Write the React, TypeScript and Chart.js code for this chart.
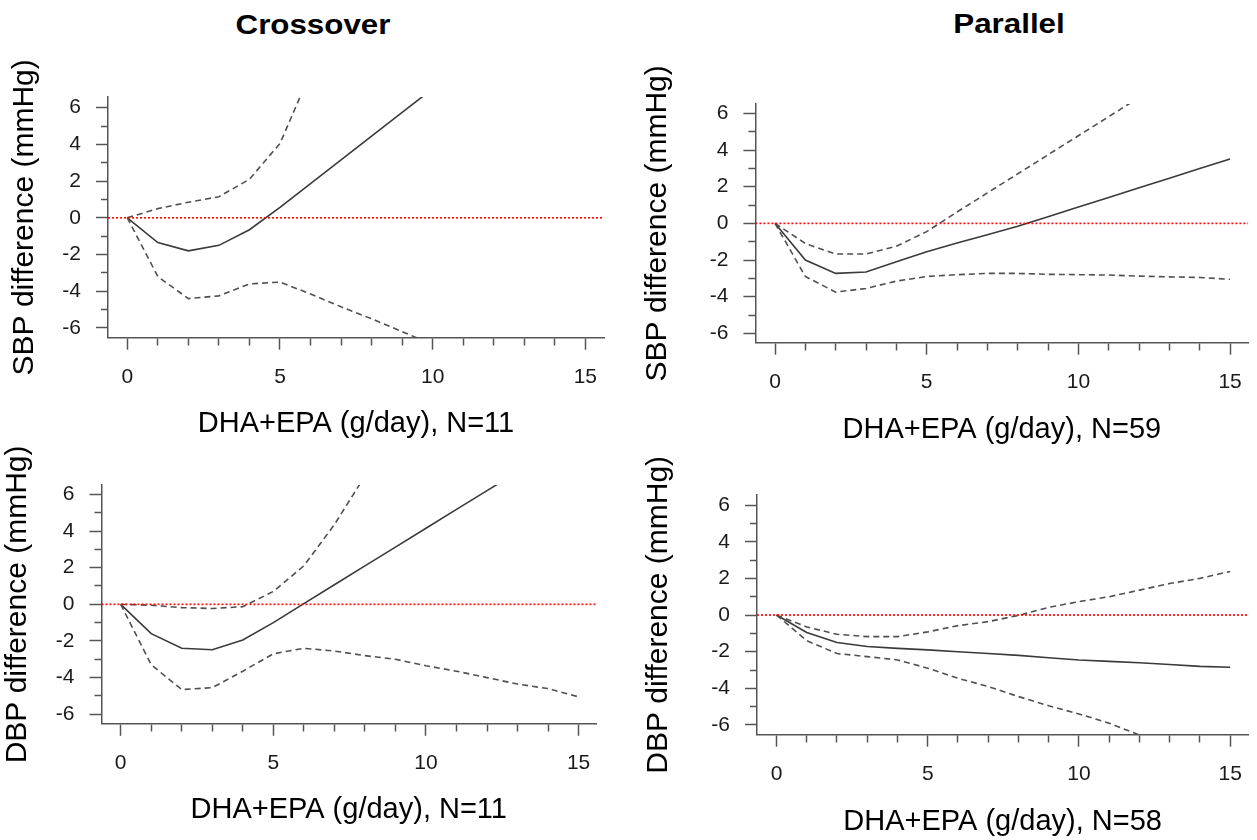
import React, { useEffect, useRef } from "react";
import { Chart, registerables } from "chart.js";

Chart.register(...registerables);

// ---- data (DHA+EPA dose in g/day, difference in mmHg) ----
const dose = [0, 1, 2, 3, 4, 5, 6, 7, 8, 9, 10, 11, 12, 13, 14, 15];

const sbpCrossEst = [0, -1.35, -1.8, -1.5, -0.65, 0.57, 1.86, 3.15, 4.45, 5.74, 7.03];
const sbpCrossUpper = [0, 0.5, 0.85, 1.15, 2.1, 4.05, 7.9];
const sbpCrossLower = [0, -3.2, -4.4, -4.25, -3.6, -3.5, -4.15, -4.85, -5.5, -6.2, -6.9];

const sbpParEst = [0, -2.0, -2.73, -2.65, -2.1, -1.55, -1.07, -0.62, -0.16, 0.36, 0.89, 1.41, 1.94, 2.46, 2.99, 3.51];
const sbpParUpper = [0, -1.1, -1.67, -1.67, -1.25, -0.45, 0.62, 1.66, 2.7, 3.74, 4.78, 5.82, 6.86];
const sbpParLower = [0, -2.9, -3.75, -3.55, -3.15, -2.9, -2.8, -2.73, -2.73, -2.78, -2.8, -2.82, -2.88, -2.92, -2.95, -3.05];

const dbpCrossEst = [0, -1.6, -2.4, -2.48, -1.95, -1.0, 0.04, 1.07, 2.1, 3.12, 4.15, 5.18, 6.2, 7.23];
const dbpCrossUpper = [0, -0.05, -0.18, -0.23, -0.13, 0.7, 2.1, 4.35, 7.0];
const dbpCrossLower = [0, -3.3, -4.65, -4.55, -3.65, -2.7, -2.4, -2.55, -2.8, -3.0, -3.35, -3.65, -4.0, -4.35, -4.6, -5.05];

const dbpParEst = [0, -0.95, -1.5, -1.72, -1.82, -1.9, -2.0, -2.1, -2.2, -2.33, -2.45, -2.53, -2.6, -2.7, -2.8, -2.85];
const dbpParUpper = [0, -0.65, -1.05, -1.18, -1.18, -0.92, -0.58, -0.36, -0.02, 0.42, 0.73, 1.0, 1.36, 1.72, 2.0, 2.38];
const dbpParLower = [0, -1.4, -2.1, -2.27, -2.45, -2.9, -3.45, -3.9, -4.45, -4.95, -5.4, -5.9, -6.55, -7.1];

const columnTitles = ["Crossover", "Parallel"];
const yTitles = ["SBP difference (mmHg)", "DBP difference (mmHg)"];
const xTitles = ["DHA+EPA (g/day), N=11", "DHA+EPA (g/day), N=59", "DHA+EPA (g/day), N=11", "DHA+EPA (g/day), N=58"];

const FONT = "'Liberation Sans', Arial, Helvetica, sans-serif";

const toPts = (vals: number[]) => vals.map((y, i) => ({ x: dose[i], y }));

type Spec = {
  left: number; top: number; w: number; h: number;
  padTop: number; padRight: number; yW: number; xH: number;
  yTitlePad: number; xTitlePad: number;
  xMin: number; xMax: number; yMin: number; yMax: number;
  est: number[]; upper: number[]; lower: number[];
  yTitle: string; xTitle: string;
};

const specs: Spec[] = [
  { left: 0, top: 40, w: 625, h: 410, padTop: 57, padRight: 21, yW: 108, xH: 112.3, yTitlePad: 7, xTitlePad: 8.6,
    xMin: -0.632, xMax: 15.61, yMin: -6.53, yMax: 6.58,
    est: sbpCrossEst, upper: sbpCrossUpper, lower: sbpCrossLower, yTitle: yTitles[0], xTitle: xTitles[0] },
  { left: 630, top: 40, w: 627, h: 420, padTop: 64, padRight: 7, yW: 125.4, xH: 117.3, yTitlePad: 10, xTitlePad: 12.6,
    xMin: -0.647, xMax: 15.6, yMin: -6.51, yMax: 6.51,
    est: sbpParEst, upper: sbpParUpper, lower: sbpParLower, yTitle: yTitles[0], xTitle: xTitles[1] },
  { left: 0, top: 420, w: 625, h: 420, padTop: 65, padRight: 29, yW: 101.5, xH: 116.2, yTitlePad: 0, xTitlePad: 12.6,
    xMin: -0.629, xMax: 15.57, yMin: -6.52, yMax: 6.51,
    est: dbpCrossEst, upper: dbpCrossUpper, lower: dbpCrossLower, yTitle: yTitles[1], xTitle: xTitles[2] },
  { left: 630, top: 430, w: 627, h: 410, padTop: 65, padRight: 3.7, yW: 127, xH: 105.3, yTitlePad: 11, xTitlePad: 0.6,
    xMin: -0.645, xMax: 15.6, yMin: -6.53, yMax: 6.55,
    est: dbpParEst, upper: dbpParUpper, lower: dbpParLower, yTitle: yTitles[1], xTitle: xTitles[3] },
];

const AXIS = "#555555";
const LINE = "#3a3a3a";
const DASH = "#505050";

function Panel({ spec }: { spec: Spec }) {
  const ref = useRef<HTMLCanvasElement>(null);
  useEffect(() => {
    const s = spec;
    const chart = new Chart(ref.current as HTMLCanvasElement, {
      type: "line",
      data: {
        datasets: [
          { data: [{ x: s.xMin, y: 0 }, { x: s.xMax, y: 0 }], borderColor: "rgba(255,0,0,0.95)", borderWidth: 1.7,
            borderDash: [2, 2], pointRadius: 0, tension: 0 },
          { data: toPts(s.upper), borderColor: DASH, borderWidth: 1.6, borderDash: [6, 4], pointRadius: 0, tension: 0 },
          { data: toPts(s.lower), borderColor: DASH, borderWidth: 1.6, borderDash: [6, 4], pointRadius: 0, tension: 0 },
          { data: toPts(s.est), borderColor: LINE, borderWidth: 1.6, pointRadius: 0, tension: 0 },
        ],
      },
      options: {
        animation: false,
        responsive: false,
        maintainAspectRatio: false,
        events: [],
        layout: { autoPadding: false, padding: { top: s.padTop, right: s.padRight, left: 0, bottom: 0 } },
        plugins: { legend: { display: false }, tooltip: { enabled: false }, title: { display: false } },
        scales: {
          x: {
            type: "linear", min: s.xMin, max: s.xMax,
            afterFit: (sc: any) => { sc.height = s.xH; },
            border: { display: true, color: AXIS, width: 1.5 },
            grid: {
              drawOnChartArea: false, drawTicks: true, tickLength: 12, tickColor: AXIS, tickWidth: 1.5,
              tickBorderDash: (ctx: any) => (ctx.tick && ctx.tick.value % 5 === 0 ? [] : [7, 100]),
            } as any,
            ticks: {
              stepSize: 1, autoSkip: false, maxRotation: 0, includeBounds: false, padding: 15, color: "#1a1a1a",
              font: { family: FONT, size: 21 },
              callback: (v: any) => (Number(v) % 5 === 0 ? String(v) : ""),
            },
            title: { display: true, text: s.xTitle, color: "#000", font: { family: FONT, size: 29, lineHeight: 1.2 },
              padding: { top: 0, bottom: s.xTitlePad } },
          },
          y: {
            type: "linear", min: s.yMin, max: s.yMax,
            afterFit: (sc: any) => { sc.width = s.yW; },
            border: { display: true, color: AXIS, width: 1.5 },
            grid: {
              drawOnChartArea: false, drawTicks: true, tickLength: 12, tickColor: AXIS, tickWidth: 1.5,
              tickBorderDash: (ctx: any) => (ctx.tick && ctx.tick.value % 2 === 0 ? [] : [0, 5, 7, 100]),
            } as any,
            ticks: {
              stepSize: 1, autoSkip: false, includeBounds: false, padding: 15, color: "#1a1a1a",
              font: { family: FONT, size: 21 },
              callback: (v: any) => (Number(v) % 2 === 0 ? String(v) : ""),
            },
            title: { display: true, text: s.yTitle, color: "#000", font: { family: FONT, size: 30, lineHeight: 1.2 },
              padding: { top: s.yTitlePad, bottom: 0 } },
          },
        },
      } as any,
    });
    return () => chart.destroy();
  }, [spec]);
  return (
    <canvas
      ref={ref}
      width={spec.w}
      height={spec.h}
      style={{ position: "absolute", left: spec.left, top: spec.top, width: spec.w, height: spec.h }}
    />
  );
}

export default function App() {
  const titleStyle = (cx: number, top: number): React.CSSProperties => ({
    position: "absolute", left: cx - 200, top, width: 400, textAlign: "center",
    fontFamily: FONT, fontWeight: "bold", fontSize: 27, lineHeight: "27px", color: "#000",
    transform: "scaleX(1.16)", transformOrigin: "center",
  });
  return (
    <div style={{ position: "absolute", left: 0, top: 0, width: 1257, height: 840, background: "#fff", overflow: "hidden" }}>
      {specs.map((s, i) => (
        <Panel key={i} spec={s} />
      ))}
      <div style={titleStyle(312.5, 11.6)}>{columnTitles[0]}</div>
      <div style={titleStyle(1009, 10.9)}>{columnTitles[1]}</div>
    </div>
  );
}
